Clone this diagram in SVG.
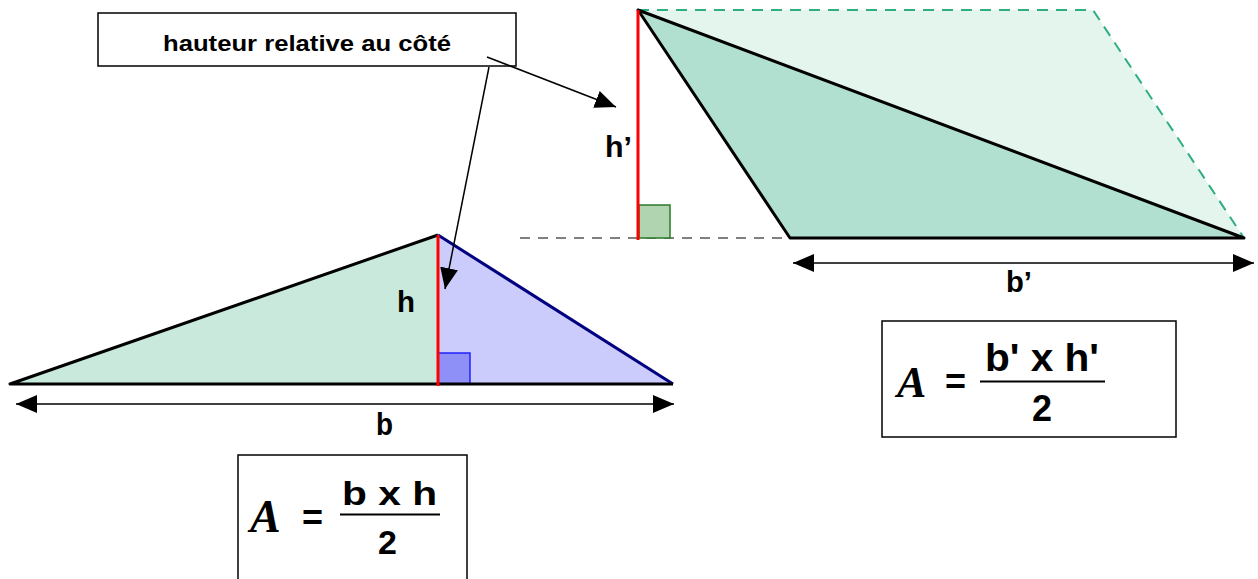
<svg xmlns="http://www.w3.org/2000/svg" width="1258" height="579" viewBox="0 0 1258 579">
<style>
.lbl{font-family:"Liberation Sans",Arial,sans-serif;font-weight:bold;fill:#000}
.scr{font-family:"Liberation Serif","DejaVu Serif",serif;font-style:italic;font-weight:bold;fill:#000}
.edge{stroke:#000;stroke-width:3;fill:none;stroke-linejoin:round}
.red{stroke:#ff0000;stroke-width:3}
.dim{stroke:#000;stroke-width:1.5;fill:none}
.box{fill:#fff;stroke:#000;stroke-width:1.5}
</style>
<defs>
<marker id="ah" markerUnits="userSpaceOnUse" markerWidth="22" markerHeight="18" viewBox="0 0 22 18" refX="21" refY="9" orient="auto-start-reverse">
<path d="M0,0 L21,9 L0,18 z" fill="#000"/>
</marker>
</defs>
<rect width="1258" height="579" fill="#fff"/>

<g id="triangle1">
<polygon points="10,384 438,235 438,384" fill="#c8e9dc"/>
<polygon points="438,235 673,384 438,384" fill="#ccccfc"/>
<rect x="438" y="353" width="32" height="31" fill="#8f8ff8" stroke="#2020ff" stroke-width="1.5"/>
<line x1="438" y1="235" x2="673" y2="384" stroke="#000080" stroke-width="3"/>
<polyline class="edge" points="438,235 10,384 673,384"/>
<line class="red" x1="438" y1="235" x2="438" y2="386"/>
<text class="lbl" x="397" y="312" font-size="30" textLength="18" lengthAdjust="spacingAndGlyphs">h</text>
</g>

<g id="parallelogram">
<polygon points="638,10 1093,10 1244,238 790,238" fill="#e4f5ee"/>
<polyline points="638,10 1093,10 1244,238" fill="none" stroke="#2fae80" stroke-width="2" stroke-dasharray="11,8"/>
<polygon points="638,10 790,238 1244,238" fill="#b1e0d0"/>
<line x1="520" y1="238" x2="790" y2="238" stroke="#808080" stroke-width="2" stroke-dasharray="10,8"/>
<rect x="639" y="205" width="31" height="33" fill="#b0d3b0" stroke="#2a7a2a" stroke-width="1.5"/>
<polygon class="edge" points="638,10 790,238 1244,238"/>
<line class="red" x1="638" y1="10" x2="638" y2="240"/>
<text class="lbl" x="605" y="157" font-size="30" textLength="27" lengthAdjust="spacingAndGlyphs">h’</text>
</g>

<g id="label-box">
<rect class="box" x="98" y="13" width="418" height="53"/>
<text class="lbl" x="163" y="51" font-size="22" textLength="288" lengthAdjust="spacingAndGlyphs">hauteur relative au côté</text>
</g>

<g id="formula1">
<rect class="box" x="238" y="455" width="229" height="140"/>
<text class="scr" x="250" y="532" font-size="46">A</text>
<text class="lbl" x="302" y="530" font-size="36">=</text>
<text class="lbl" x="342" y="505" font-size="34" textLength="95" lengthAdjust="spacingAndGlyphs">b x h</text>
<line x1="340" y1="514.5" x2="440" y2="514.5" stroke="#000" stroke-width="2"/>
<text class="lbl" x="378" y="554" font-size="34">2</text>
</g>

<g id="formula2">
<rect class="box" x="882" y="321" width="294" height="116"/>
<text class="scr" x="897" y="397" font-size="44">A</text>
<text class="lbl" x="945" y="394" font-size="36">=</text>
<text class="lbl" x="985" y="371" font-size="38" textLength="114" lengthAdjust="spacingAndGlyphs">b' x h'</text>
<line x1="980" y1="381.5" x2="1105" y2="381.5" stroke="#000" stroke-width="2"/>
<text class="lbl" x="1032" y="421" font-size="36">2</text>
</g>

<g id="connectors">
<line class="dim" x1="16" y1="404" x2="674" y2="404" marker-start="url(#ah)" marker-end="url(#ah)"/>
<line class="dim" x1="793" y1="263" x2="1254" y2="263" marker-start="url(#ah)" marker-end="url(#ah)"/>
<line class="dim" x1="487" y1="57" x2="616" y2="107" marker-end="url(#ah)"/>
<line class="dim" x1="489" y1="67" x2="445" y2="289" marker-end="url(#ah)"/>
</g>

<g id="dim-labels">
<text class="lbl" x="376" y="435" font-size="31" textLength="17" lengthAdjust="spacingAndGlyphs">b</text>
<text class="lbl" x="1006" y="292" font-size="30" textLength="26" lengthAdjust="spacingAndGlyphs">b’</text>
</g>
</svg>
